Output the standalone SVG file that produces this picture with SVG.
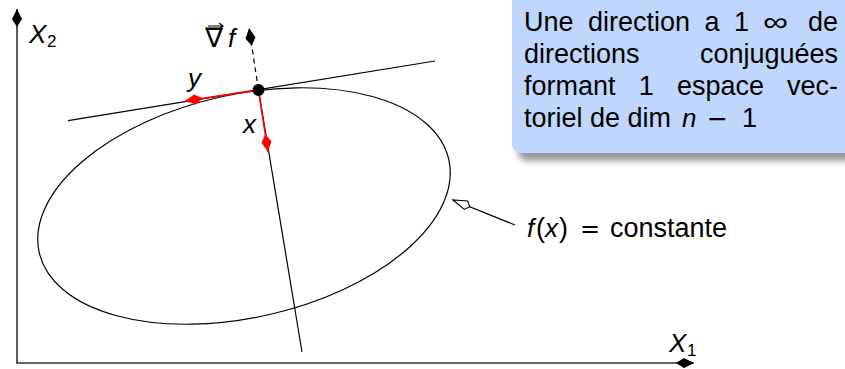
<svg xmlns="http://www.w3.org/2000/svg" width="845" height="369" viewBox="0 0 845 369">
<defs>
<style>
.ln{stroke:#000;stroke-width:1.2;fill:none}
.ax{stroke:#333;stroke-width:1.6;fill:none}
.rd{stroke:#f00;stroke-width:1.6;fill:none}
.t{font-family:"Liberation Sans",Arial,sans-serif;font-size:27px;fill:#000}
.it{font-family:"Liberation Sans",Arial,sans-serif;font-style:italic;font-size:26px;fill:#000}
.sub{font-family:"Liberation Sans",Arial,sans-serif;font-size:17px;fill:#000}
</style>
<marker id="ak" markerUnits="userSpaceOnUse" viewBox="-20 -6 21 12" refX="0" refY="0" markerWidth="21" markerHeight="12" orient="auto">
<path d="M0,0 L-10,-5 L-18,0 L-10,5 Z" fill="#000"/>
</marker>
<marker id="ar" markerUnits="userSpaceOnUse" viewBox="-20 -6 21 12" refX="0" refY="0" markerWidth="21" markerHeight="12" orient="auto">
<path d="M0,0 L-10,-5 L-18,0 L-10,5 Z" fill="#f00"/>
</marker>
<marker id="ah" markerUnits="userSpaceOnUse" viewBox="-20 -7 22 14" refX="0" refY="0" markerWidth="22" markerHeight="14" orient="auto">
<path d="M0,0 L-14,-4.5 L-18,0 L-14,4.5 Z" fill="#fff" stroke="#000" stroke-width="1.1"/>
</marker>
<filter id="sh" x="-10%" y="-10%" width="130%" height="150%"><feGaussianBlur stdDeviation="3"/></filter>
</defs>
<rect width="845" height="369" fill="#fff"/>

<g id="note">
<rect x="518" y="-20" width="345" height="181" rx="9" fill="#444" opacity="0.55" filter="url(#sh)"/>
<rect x="512" y="-20" width="345" height="173" rx="9" fill="#bfd7fd"/>
<text class="t" y="31"><tspan x="524">Une</tspan><tspan x="588">direction</tspan><tspan x="704.5">a</tspan><tspan x="734">1</tspan><tspan x="808">de</tspan></text>
<text class="t" font-family="DejaVu Sans" font-size="27" transform="translate(763 31) scale(1.3 1)">∞</text>
<text class="t" y="63"><tspan x="524">directions</tspan><tspan x="838" text-anchor="end">conjuguées</tspan></text>
<text class="t" y="95"><tspan x="524">formant</tspan><tspan x="638.7">1</tspan><tspan x="677">espace</tspan><tspan x="787">vec-</tspan></text>
<text class="t" y="127"><tspan x="524">toriel de dim</tspan><tspan class="it" x="682" font-size="27">n</tspan><tspan x="707" font-family="DejaVu Sans" font-size="25">−</tspan><tspan x="742">1</tspan></text>
</g>

<g id="axes">
<line class="ax" x1="17" y1="363" x2="17" y2="9" marker-end="url(#ak)"/>
<line class="ax" x1="16" y1="363" x2="694" y2="363" marker-end="url(#ak)"/>
<text class="it" x="29" y="43">X</text><text class="sub" x="47" y="47">2</text>
<text class="it" x="669" y="352">X</text><text class="sub" x="687" y="356">1</text>
</g>

<g id="ellipse">
<ellipse class="ln" cx="244" cy="206" rx="210" ry="111.5" transform="rotate(-12.8 244 206)"/>
</g>

<g id="connectors">
<line class="ln" x1="68" y1="120.7" x2="435" y2="61"/>
<line class="ln" x1="258.5" y1="90" x2="302" y2="352"/>
<line class="ln" x1="258.5" y1="90" x2="249" y2="28" stroke-dasharray="5 4" marker-end="url(#ak)"/>
<line class="rd" x1="258.5" y1="90" x2="185" y2="101" marker-end="url(#ar)"/>
<line class="rd" x1="258.5" y1="90" x2="268" y2="152" marker-end="url(#ar)"/>
<line class="ln" x1="515" y1="225" x2="453" y2="200" marker-end="url(#ah)"/>
</g>

<g id="point">
<circle cx="258.5" cy="90" r="6" fill="#000"/>
</g>

<g id="labels">
<text class="it" x="188" y="87">y</text>
<text class="it" x="243" y="133">x</text>
<text class="t" x="205" y="47" font-family="DejaVu Sans" font-size="22">∇</text>
<path d="M208,26 H223 M219,23 L223,26 L219,29" stroke="#000" stroke-width="1.2" fill="none"/>
<text class="it" x="228" y="47">f</text>
<text class="t" y="237" font-size="26"><tspan class="it" x="527">f</tspan><tspan x="536">(</tspan><tspan class="it" x="545">x</tspan><tspan x="559">)</tspan><tspan x="580" font-family="DejaVu Sans" font-size="24">=</tspan><tspan x="610">constante</tspan></text>
</g>
</svg>
